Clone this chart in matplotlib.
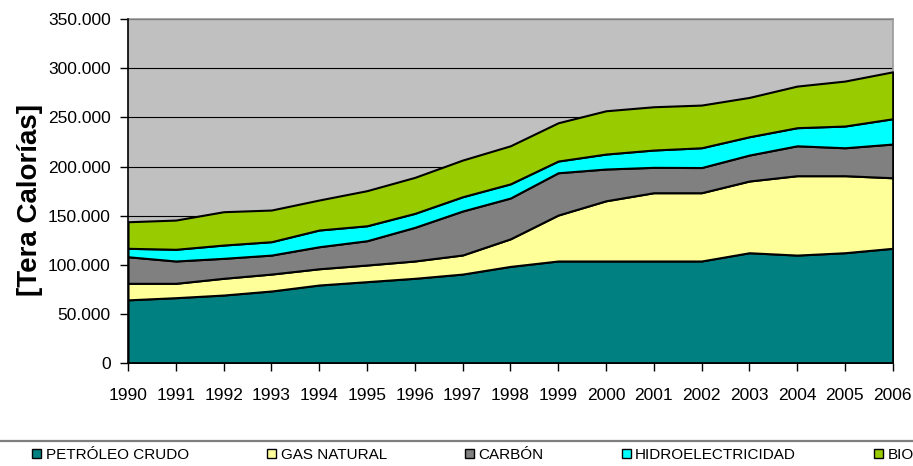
import numpy as np
import matplotlib
matplotlib.use('Agg')
import matplotlib.pyplot as plt
from matplotlib.lines import Line2D
from matplotlib.ticker import FuncFormatter

plt.rcParams['font.family'] = ['Liberation Sans', 'DejaVu Sans']

# ─────────────────────────────────────────────
# datos (Tera calorías)
# ─────────────────────────────────────────────
years = ['1990', '1991', '1992', '1993', '1994', '1995', '1996', '1997', '1998',
         '1999', '2000', '2001', '2002', '2003', '2004', '2005', '2006']

petroleo = [64500, 66700, 69400, 73500, 79600, 83000, 86400, 90700, 98500,
            104000, 104000, 104000, 104000, 112400, 110000, 112400, 116900]
gas_natural = [16800, 14600, 17000, 17200, 16500, 16900, 17600, 19400, 28000,
               46700, 61200, 69400, 69400, 72900, 80700, 78300, 71700]
carbon = [27000, 22700, 20300, 19300, 22400, 24700, 34200, 44700, 41500,
          43000, 32300, 25800, 25600, 26400, 30400, 28400, 34300]
hidro = [8600, 11900, 13500, 13600, 17000, 15200, 14200, 14500, 14400,
         11900, 15200, 17600, 20100, 18600, 18400, 22100, 25700]
biomasa = [27000, 29700, 33900, 32200, 30500, 35700, 36600, 37300, 38700,
           38900, 44000, 44000, 43400, 40000, 42300, 45700, 47700]

series_labels = ['PETRÓLEO CRUDO', 'GAS NATURAL', 'CARBÓN', 'HIDROELECTRICIDAD', 'BIOMASA']
colors = ['#008080', '#FFFF99', '#808080', '#00FFFF', '#99CC00']


def _miles(v, pos):
    # separador de miles con punto
    return f'{int(v):,}'.replace(',', '.')


fig = plt.figure(figsize=(9.13, 4.66), dpi=100)
ax_w = 892.7 - 128
ax_h = 363.3 - 19
ax = fig.add_axes([128 / 913, 1 - 363.3 / 466, ax_w / 913, ax_h / 466])

x = np.arange(len(years))
polys = ax.stackplot(x, petroleo, gas_natural, carbon, hidro, biomasa,
                     colors=colors, edgecolor='black', linewidth=1.5,
                     labels=series_labels, zorder=3)

ax.set_facecolor('#C0C0C0')
ax.set_xlim(0, len(years) - 1)
ax.set_ylim(0, 350000)
ax.set_yticks(np.arange(0, 350001, 50000))
ax.yaxis.set_major_formatter(FuncFormatter(_miles))
ax.set_xticks(x)
ax.set_xticklabels(years, fontsize=12.5)
ax.grid(axis='y', color='black', linewidth=0.8, zorder=1)
ax.set_axisbelow(True)

for side in ['top', 'right']:
    ax.spines[side].set_color('#999999')
    ax.spines[side].set_linewidth(1.2)
for side in ['left', 'bottom']:
    ax.spines[side].set_color('black')
    ax.spines[side].set_linewidth(1.2)
    ax.spines[side].set_zorder(5)

ax.tick_params(axis='both', direction='out', length=6, width=1, colors='black')
ax.tick_params(axis='y', labelsize=12.5, pad=6.5)
ax.tick_params(axis='x', pad=12)

ax.set_ylabel('[Tera Calorías]', fontsize=20, fontweight='bold')
ax.yaxis.set_label_coords((43 - 128) / ax_w, (363.3 - 200) / ax_h)

# leyenda (recortada por el borde como en el original)
fig.add_artist(Line2D([0, 1], [1 - 440.5 / 466] * 2, transform=fig.transFigure,
                      color='#7F7F7F', linewidth=1.6))
leg = fig.legend(handles=polys, labels=series_labels, ncol=5, frameon=False,
                 loc='center left', bbox_to_anchor=(32 / 913, 1 - 455 / 466),
                 fontsize=11, handlelength=0.6, handleheight=0.6,
                 handletextpad=0.3, columnspacing=5.1, borderaxespad=0,
                 borderpad=0)
for h in leg.legend_handles:
    h.set_linewidth(1.0)
    h.set_edgecolor('black')

fig.savefig('out.png', dpi=100)
